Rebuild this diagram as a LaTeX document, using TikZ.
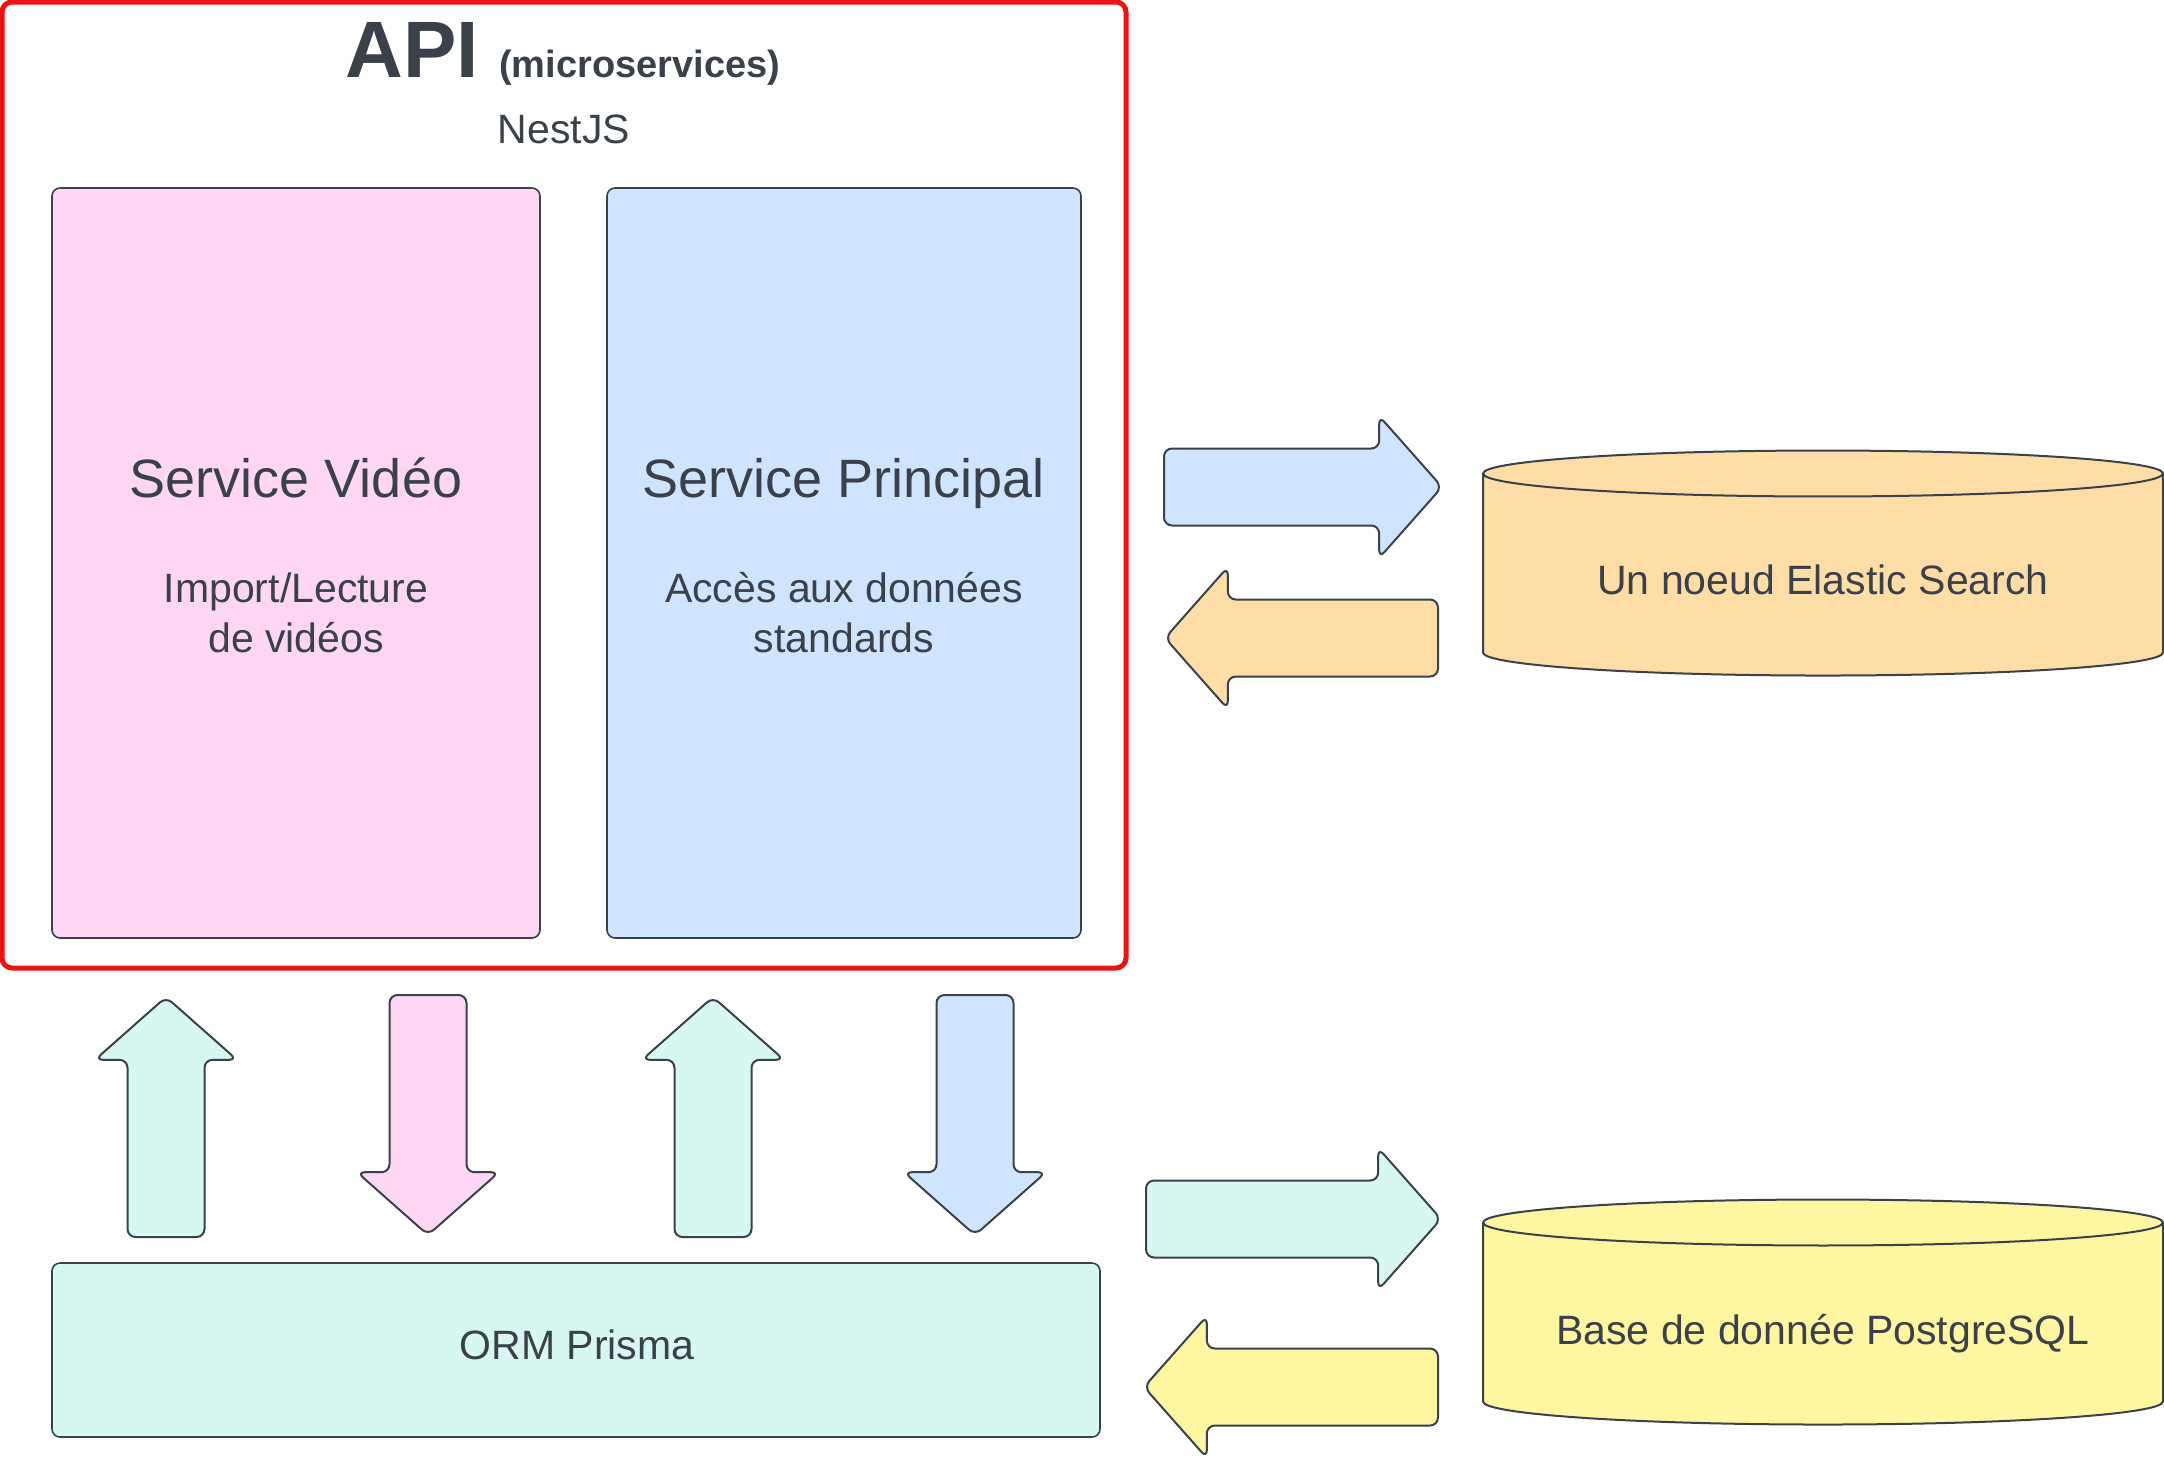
\documentclass[tikz,border=0pt]{standalone}
\usepackage{fontspec}
\setmainfont{Liberation Sans}
\usepackage{tikz}
\usetikzlibrary{positioning}
\usetikzlibrary{shapes.arrows,shapes.geometric}
\definecolor{linegray}{HTML}{3A414A}
\definecolor{apired}{HTML}{E81313}
\definecolor{pinkfill}{HTML}{FFD7F5}
\definecolor{bluefill}{HTML}{CFE4FF}
\definecolor{mintfill}{HTML}{D7F8F1}
\definecolor{orangefill}{HTML}{FFDDA6}
\definecolor{yellowfill}{HTML}{FFF6A2}
\tikzset{service box/.style={rectangle,draw=linegray,line width=0.8pt,rounded corners=4pt},
	block arrow/.style={single arrow,draw=linegray,line width=1pt,rounded corners=4pt,inner sep=18.75pt,
		single arrow head extend=16.25pt,single arrow tip angle=97,minimum height=#1,anchor=tail},
	db node/.style={cylinder,draw=linegray,line width=1pt,rotate=90,inner xsep=0pt,inner ysep=170pt,
		minimum height=112.5pt,aspect=0.0676},
	big text/.style={text=linegray,font=\fontsize{27}{32}\selectfont,anchor=base},
	small text/.style={text=linegray,font=\fontsize{20.5}{25}\selectfont,align=center},}

\begin{document}
\begin{tikzpicture}[x=0.5pt,y=-0.5pt,line join=round]
	\useasboundingbox (0,0) rectangle (2164,1463);
	% API frame
	\node[draw=apired,line width=2.5pt,rounded corners=5pt,minimum width=562pt,minimum height=483pt] (api) at (564,485) {};
	\node[anchor=base,text=linegray] (title) at (563,77) {{\fontsize{40}{48}\selectfont\bfseries API}\hspace{10pt}{\fontsize{19}{23}\selectfont\bfseries (microservices)}};
	\node[small text,anchor=base] (nest) at (564,143) {NestJS};

	\node[service box,fill=pinkfill,minimum width=244pt,minimum height=375pt] (svideo) at (296,563) {};
	\node[service box,fill=bluefill,minimum width=237pt,minimum height=375pt] (sprincipal) at (844,563) {};
	\node[big text] (svtitle) at (296,497) {Service Vidéo};
	\node[small text] (svtext) at (296,613) {Import/Lecture\\de vidéos};
	\node[big text] (sptitle) at (844,497) {Service Principal};
	\node[small text] (sptext) at (844,613) {Accès aux données\\standards};

	% arrows between API and ORM
	\node[block arrow=120pt,fill=mintfill,rotate=90] (vup) at (166,1238) {};
	\node[block arrow=120pt,fill=pinkfill,rotate=-90] (vdown) at (428,994) {};
	\node[block arrow=120pt,fill=mintfill,rotate=90] (pup) at (713,1238) {};
	\node[block arrow=120pt,fill=bluefill,rotate=-90] (pdown) at (975,994) {};

	\node[service box,fill=mintfill,minimum width=524pt,minimum height=87pt] (orm) at (576,1350) {};
	\node[small text,anchor=base] (ormtext) at (577,1359) {ORM Prisma};

	% databases
	\node[db node,fill=orangefill] (es) at (1823,586.5) {};
	\node[small text,anchor=base] (estext) at (1823,594) {Un noeud Elastic Search};
	\node[db node,fill=yellowfill] (pg) at (1823,1335.5) {};
	\node[small text,anchor=base] (pgtext) at (1823,1344) {Base de donnée PostgreSQL};

	\node[block arrow=139pt,fill=bluefill] (esin) at (1163,487) {};
	\node[block arrow=136.5pt,fill=orangefill,rotate=180] (esout) at (1439,638) {};
	\node[block arrow=147.5pt,fill=mintfill] (pgin) at (1145,1219) {};
	\node[block arrow=147pt,fill=yellowfill,rotate=180] (pgout) at (1439,1387) {};
\end{tikzpicture}
\end{document}
